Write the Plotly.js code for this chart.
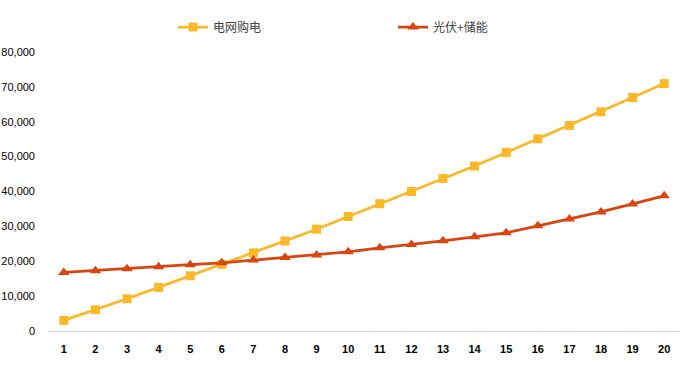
<!DOCTYPE html>
<html>
<head>
<meta charset="utf-8">
<script src="https://cdn.plot.ly/plotly-3.0.1.min.js"></script>
<style>html,body{margin:0;padding:0;background:#fff;}#chart{width:688px;height:383px;}</style>
</head>
<body>
<div id="chart"></div>
<script>
const years = [1,2,3,4,5,6,7,8,9,10,11,12,13,14,15,16,17,18,19,20];
const gridPurchase = [3050,6100,9250,12500,15850,19100,22400,25800,29200,32850,36500,40000,43750,47300,51200,55100,58950,62850,66950,70950];
const pvStorage = [16800,17300,17850,18400,19000,19550,20350,21100,21800,22700,23850,24800,25850,27000,28150,30150,32150,34150,36450,38750];
const seriesNames = ['电网购电','光伏+储能'];
const yTicks = [0,10000,20000,30000,40000,50000,60000,70000,80000];
const yTickText = ['0','10,000','20,000','30,000','40,000','50,000','60,000','70,000','80,000'];

const traces = [
  {x: years, y: gridPurchase, name: seriesNames[0], type:'scatter', mode:'lines+markers',
   line:{color:'#FBB829', width:2.75}, marker:{symbol:'square', size:9, color:'#FBB829'}},
  {x: years, y: pvStorage, name: seriesNames[1], type:'scatter', mode:'lines+markers',
   line:{color:'#D9440F', width:2.75}, marker:{symbol:'triangle-up', size:10, color:'#D9440F'}}
];
const layout = {
  width:688, height:383,
  margin:{l:48, r:8, t:52, b:52},
  paper_bgcolor:'#fff', plot_bgcolor:'#fff',
  font:{family:'"Liberation Sans", Arial, sans-serif', size:11, color:'#000'},
  showlegend:true,
  legend:{orientation:'h', xref:'container', yref:'container', x:173/688, y:1-27/383,
    xanchor:'left', yanchor:'middle', entrywidth:175, entrywidthmode:'pixels',
    font:{family:'"Noto Sans CJK SC", sans-serif', size:12, color:'#404040'}},
  xaxis:{range:[0.5,20.5], tickvals:years, ticktext:years.map(String), showgrid:false, zeroline:false,
    showline:true, linecolor:'#D9D9D9', linewidth:1, ticks:'', ticklabelstandoff:8,
    tickfont:{family:'"Liberation Sans", Arial, sans-serif', size:11, color:'#000', weight:'bold'}, fixedrange:true},
  yaxis:{range:[0,80000], tickvals:yTicks, ticktext:yTickText, showgrid:false, zeroline:false,
    showline:false, ticks:'', ticklabelstandoff:12,
    tickfont:{family:'"Liberation Sans", Arial, sans-serif', size:11, color:'#000'}, fixedrange:true}
};
Plotly.newPlot('chart', traces, layout, {displayModeBar:false, staticPlot:true});
</script>
</body>
</html>
